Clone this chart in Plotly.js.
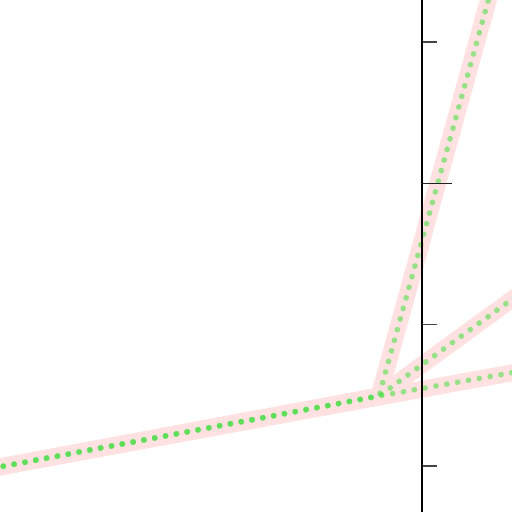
<!DOCTYPE html>
<html>
<head>
<meta charset="utf-8">
<script src="https://cdn.plot.ly/plotly-3.0.1.min.js"></script>
<style>
html,body{margin:0;padding:0;background:#fff;}
#chart{width:512px;height:512px;}
.scatterlayer .trace.green path.js-line{stroke-linecap:round;stroke-dashoffset:4.6px;}
</style>
</head>
<body>
<div id="chart"></div>
<script>
// Series data (data units)
const steepX = [-3.0, -0.297, 0.5];
const steepY = [-0.01, 0.495, 3.38];
const midX = [-3.0, -0.297, 0.7];
const midY = [-0.01, 0.495, 1.22];
const lowX = [-3.0, -0.297, 0.7];
const lowY = [-0.01, 0.495, 0.67];

const seriesX = [steepX, midX, lowX];
const seriesY = [steepY, midY, lowY];

const traces = [];
// pink halo lines first
for (let i = 0; i < seriesX.length; i++) {
  traces.push({
    type: 'scatter', mode: 'lines', x: seriesX[i], y: seriesY[i],
    line: {color: '#ffe1e1', width: 17}, hoverinfo: 'skip', showlegend: false
  });
}
// green dotted lines on top
for (let i = 0; i < seriesX.length; i++) {
  traces.push({
    type: 'scatter', mode: 'lines', x: seriesX[i], y: seriesY[i],
    line: {color: '#55de50', width: 5.5, dash: '0.1px,10.9px'}, opacity: 0.62,
    hoverinfo: 'skip', showlegend: false
  });
}

const layout = {
  width: 512, height: 512, autosize: false,
  margin: {l: 0, r: 0, t: 0, b: 0, pad: 0},
  paper_bgcolor: '#fff', plot_bgcolor: '#fff',
  showlegend: false,
  xaxis: {range: [-2.979, 0.644], visible: false, fixedrange: true},
  yaxis: {
    range: [-0.3255, 3.297], anchor: 'free', position: 0.8223,
    showline: true, linecolor: '#000', linewidth: 1.6,
    showgrid: false, zeroline: false, showticklabels: false,
    ticks: 'inside', tick0: 2, dtick: 4, ticklen: 29, tickwidth: 1.6, tickcolor: '#222',
    minor: {ticks: 'inside', dtick: 1, ticklen: 14, tickwidth: 1.6, tickcolor: '#444', showgrid: false},
    fixedrange: true
  }
};

Plotly.newPlot('chart', traces, layout, {staticPlot: true, displayModeBar: false}).then(function(){
  document.querySelectorAll('.scatterlayer .trace').forEach(function(t, i){
    if (i >= seriesX.length) t.classList.add('green');
  });
});
</script>
</body>
</html>
